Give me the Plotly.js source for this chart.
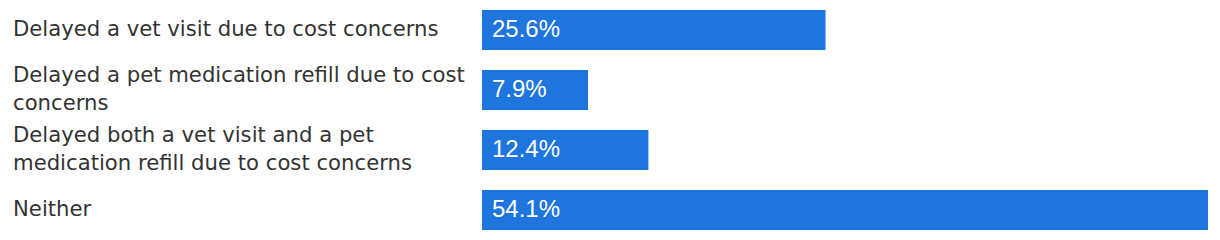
<!DOCTYPE html>
<html>
<head>
<meta charset="utf-8">
<script src="https://cdn.plot.ly/plotly-3.0.1.min.js"></script>
<style>
html,body{margin:0;padding:0;background:#fff;}
#chart{width:1220px;height:240px;}
</style>
</head>
<body>
<div id="chart"></div>
<script>
var categories = [
  "Delayed a vet visit due to cost concerns",
  "Delayed a pet medication refill due to cost concerns",
  "Delayed both a vet visit and a pet medication refill due to cost concerns",
  "Neither"
];
var categoryLabels = [
  "Delayed a vet visit due to cost concerns",
  "Delayed a pet medication refill due to cost<br>concerns",
  "Delayed both a vet visit and a pet<br>medication refill due to cost concerns",
  "Neither"
];
var values = [25.6, 7.9, 12.4, 54.1];

var LABEL_FONT = "DejaVu Sans, Liberation Sans, Arial, sans-serif";
var VALUE_FONT = "Liberation Sans, Arial, Helvetica, sans-serif";

var trace = {
  type: "bar",
  orientation: "h",
  y: categories,
  x: values,
  width: 0.667,
  marker: {color: "#1f75de"},
  hoverinfo: "none"
};

var annotations = [];
categories.forEach(function(c, i){
  annotations.push({
    xref: "paper", yref: "y",
    x: 0, y: c,
    xanchor: "left", yanchor: "middle",
    xshift: -471, yshift: 2,
    align: "left",
    showarrow: false,
    text: categoryLabels[i],
    font: {family: LABEL_FONT, size: 21.2, color: "#333333"}
  });
  annotations.push({
    xref: "x", yref: "y",
    x: 0, y: c,
    xanchor: "left", yanchor: "middle",
    xshift: 8, yshift: 2,
    showarrow: false,
    text: values[i].toFixed(1) + "%",
    font: {family: VALUE_FONT, size: 24, color: "#ffffff"}
  });
});

var layout = {
  width: 1220, height: 240,
  margin: {l: 482, r: 12, t: 0, b: 0, pad: 0},
  paper_bgcolor: "#ffffff",
  plot_bgcolor: "#ffffff",
  showlegend: false,
  xaxis: {range: [0, 54.1], visible: false, fixedrange: true},
  yaxis: {type: "category", autorange: "reversed", visible: false, fixedrange: true},
  annotations: annotations
};

Plotly.newPlot("chart", [trace], layout, {displayModeBar: false, staticPlot: true});
</script>
</body>
</html>
